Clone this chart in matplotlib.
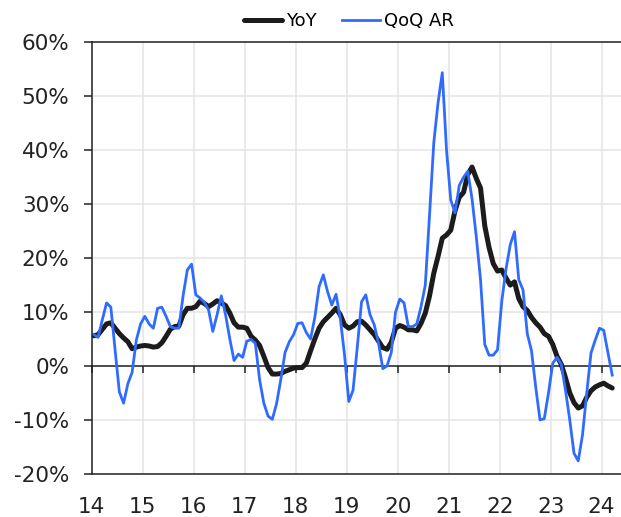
import numpy as np
import pandas as pd
import matplotlib
matplotlib.use("Agg")
import matplotlib.pyplot as plt
from matplotlib.ticker import FuncFormatter

# Monthly readings, Jan 2014 .. Mar 2024 (percent)
start_month = "2014-01"
yoy = [5.6, 5.8, 6.8, 7.8, 8.0, 7.0, 6.0, 5.2, 4.5, 3.2, 3.5, 3.7,
       3.8, 3.7, 3.5, 3.6, 4.3, 5.5, 6.8, 7.3, 7.4, 9.5, 10.7, 10.7,
       11.0, 12.0, 11.6, 11.0, 11.5, 12.1, 11.7, 11.2, 9.8, 8.0, 7.2, 7.2,
       7.0, 5.5, 4.8, 3.8, 1.8, -0.3, -1.5, -1.5, -1.4, -1.0, -0.7, -0.4,
       -0.3, -0.3, 0.5, 2.8, 5.0, 7.0, 8.2, 9.0, 9.8, 10.7, 9.5, 7.6,
       7.0, 7.4, 8.2, 8.3, 7.6, 6.7, 5.8, 4.6, 3.4, 3.1, 4.4, 7.0,
       7.5, 7.2, 6.7, 6.7, 6.5, 7.9, 9.8, 13.0, 17.2, 20.3, 23.7, 24.3,
       25.2, 28.8, 31.3, 32.2, 35.5, 36.9, 34.8, 33.0, 26.0, 22.0, 19.0, 17.6,
       17.8, 16.3, 15.0, 15.6, 12.5, 11.0, 10.3, 9.0, 8.0, 7.2, 6.0, 5.5,
       4.0, 1.8, 0.3, -2.2, -5.0, -6.8, -7.8, -7.4, -5.8, -4.6, -3.9, -3.5,
       -3.2, -3.7, -4.1]
qoq_ar = [5.8, 5.3, 8.6, 11.7, 10.9, 3.0, -4.8, -6.9, -3.3, -1.2, 4.8, 7.8,
          9.2, 7.8, 7.0, 10.7, 10.9, 9.2, 7.3, 7.0, 7.0, 13.0, 17.8, 18.9,
          13.2, 12.6, 11.8, 10.4, 6.4, 9.5, 13.0, 9.5, 5.0, 1.0, 2.2, 1.6,
          4.6, 4.9, 4.2, -2.5, -6.9, -9.3, -9.9, -7.0, -2.5, 2.5, 4.5, 5.8,
          7.9, 8.0, 6.2, 5.0, 9.0, 14.7, 16.9, 13.8, 11.3, 13.3, 8.8, 2.0,
          -6.6, -4.5, 3.5, 11.9, 13.2, 9.5, 7.6, 4.2, -0.5, 0.0, 2.5, 10.0,
          12.4, 11.7, 7.3, 7.3, 7.8, 11.0, 15.0, 28.0, 41.4, 48.8, 54.4, 40.0,
          30.8, 28.4, 33.5, 35.0, 36.1, 31.0, 24.0, 16.0, 4.0, 2.0, 2.0, 3.0,
          12.0, 18.0, 22.5, 24.9, 16.0, 14.1, 6.0, 2.8, -4.0, -10.0, -9.8, -5.0,
          0.5, 1.6, 0.3, -4.5, -10.0, -16.2, -17.6, -12.8, -5.0, 2.4, 4.8, 7.0,
          6.6, 2.4, -1.7]
year_ticks = list(range(14, 25))

months = pd.date_range(start_month, periods=len(yoy), freq="MS")
# two-digit year, placed mid-month
x = (months.year - 2000) + (months.month - 0.5) / 12

plt.rcParams["font.family"] = "DejaVu Sans"
fig = plt.figure(figsize=(6.21, 5.17), dpi=100)
ax = fig.add_axes([0.1477, 0.0836, 0.8523, 0.8342])

ax.plot(x, yoy, color="#1c1c1c", lw=3.6, label="YoY", solid_capstyle="round")
ax.plot(x, qoq_ar, color="#2f6bff", lw=2.0, label="QoQ AR")

ax.set_xlim(14, 24.38)
ax.set_ylim(-20, 60)
ax.set_xticks(year_ticks)
ax.set_yticks(range(-20, 61, 10))
ax.yaxis.set_major_formatter(FuncFormatter(lambda v, p: f"{v:.0f}%"))
ax.grid(True, color="#e4e4e4", lw=1.1)
ax.set_axisbelow(True)

for s in ["left", "bottom", "top"]:
    ax.spines[s].set_color("#222222")
    ax.spines[s].set_linewidth(1.1)
ax.spines["right"].set_visible(False)

ax.tick_params(axis="y", length=6, width=1.1, color="#222222", pad=10,
               labelsize=15.5, labelcolor="#222222")
ax.tick_params(axis="x", length=0, pad=17, labelsize=15.5, labelcolor="#222222")

# zero line with the year ticks hanging off it
zero_ax = ax.secondary_xaxis(0.25)
zero_ax.set_zorder(1)
zero_ax.set_xticks(year_ticks)
zero_ax.set_xticklabels([])
zero_ax.tick_params(axis="x", length=5, width=1.1, color="#222222")
zero_ax.spines["bottom"].set_color("#222222")
zero_ax.spines["bottom"].set_linewidth(1.1)

fig.legend(loc="center", bbox_to_anchor=(0.562, 0.959), ncol=2, frameon=False,
           fontsize=13, handlelength=2.1, handletextpad=0.25, columnspacing=1.4)

fig.savefig("out.png", dpi=100)
